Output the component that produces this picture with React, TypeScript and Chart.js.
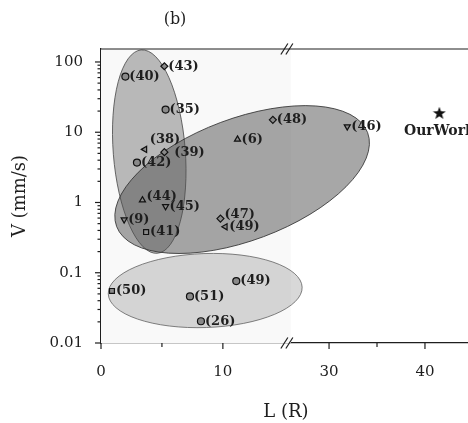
import React, { useEffect, useRef } from 'react';
import { Chart, registerables } from 'chart.js';

Chart.register(...registerables);

// ---------- data ----------
const REFS = ['(40)', '(43)', '(35)', '(38)', '(39)', '(42)', '(44)', '(45)', '(9)', '(41)', '(6)', '(48)', '(46)', '(47)', '(49)', '(50)', '(51)', '(49)', '(26)', 'OurWork'];
const L_VALUES = [2.0, 5.2, 5.3, 3.6, 5.2, 2.95, 3.4, 5.3, 1.9, 3.7, 11.2, 14.1, 31.9, 9.8, 10.2, 0.9, 7.3, 11.1, 8.2, 41.5];
const V_VALUES = [62, 87, 21, 5.7, 5.2, 3.7, 1.08, 0.88, 0.57, 0.38, 7.9, 15, 12, 0.59, 0.45, 0.055, 0.046, 0.076, 0.0204, 18.8];
const MARKERS = ['circle', 'diamond', 'circle', 'triLeft', 'diamond', 'circle', 'triUp', 'triDown', 'triDown', 'square', 'triUp', 'diamond', 'triDown', 'diamond', 'triLeft', 'square', 'circle', 'circle', 'circle', 'star'];

// group ellipses: centre (L, V)
const GROUP_L = [8.55, 3.96, 11.58];
const GROUP_V = [0.0558, 5.3, 2.12];

const X_TICKS = [0, 10, 30, 40];
const X_TICK_LABELS = ['0', '10', '30', '40'];
const X_MINOR_TICKS = [5, 35];
const Y_TICKS = [0.01, 0.1, 1, 10, 100];
const Y_TICK_LABELS = ['0.01', '0.1', '1', '10', '100'];
const Y_MIN = 0.01;
const Y_MAX = 153;
const X_MAX = 44.8;
const BREAK_FROM = 15.25;
const BREAK_TO = 25.6;
const RIGHT_RATIO = 0.787;

// ---------- styles ----------
const LABEL_POS = ['r', 'r', 'r', 'ur', 'rr', 'r', 'ru', 'r', 'r', 'r', 'r', 'r', 'r', 'ru', 'r', 'r', 'r', 'r', 'r', 'below'];
const GROUP_STYLE = [
  { rx: 97, ry: 37, rot: -2, fill: 'rgba(125,125,125,0.30)', stroke: 'rgba(90,90,90,0.75)' },
  { rx: 36, ry: 102, rot: -4.5, fill: 'rgba(80,80,80,0.38)', stroke: 'rgba(70,70,70,0.8)' },
  { rx: 134, ry: 61, rot: -20.5, fill: 'rgba(80,80,80,0.50)', stroke: 'rgba(50,50,50,0.85)' },
];
const INK = '#1e1e1e';
const FONT = 'DejaVu Serif';

const toAxis = (x: number) => (x <= BREAK_FROM ? x : BREAK_FROM + (x - BREAK_TO) * RIGHT_RATIO);

function makeStar(): HTMLCanvasElement {
  const c = document.createElement('canvas');
  c.width = 14;
  c.height = 14;
  const g = c.getContext('2d')!;
  g.fillStyle = '#111';
  g.beginPath();
  for (let i = 0; i < 10; i++) {
    const r = i % 2 === 0 ? 6.8 : 2.8;
    const a = -Math.PI / 2 + (i * Math.PI) / 5;
    const px = 7 + r * Math.cos(a);
    const py = 7.5 + r * Math.sin(a);
    if (i === 0) g.moveTo(px, py);
    else g.lineTo(px, py);
  }
  g.closePath();
  g.fill();
  return c;
}

const styleOf = (m: string, star: HTMLCanvasElement): any => {
  if (m === 'diamond') return 'rectRot';
  if (m === 'square') return 'rect';
  if (m.startsWith('tri')) return 'triangle';
  if (m === 'star') return star;
  return 'circle';
};
const rotOf = (m: string) => (m === 'triDown' ? 180 : m === 'triLeft' ? -90 : 0);

export default function App() {
  const ref = useRef<HTMLCanvasElement | null>(null);

  useEffect(() => {
    if (!ref.current) return;
    const star = makeStar();

    const decor = {
      id: 'decor',
      beforeDatasetsDraw(chart: any) {
        const { ctx, chartArea: ca, scales } = chart;
        const xs = scales.x;
        const ys = scales.y;
        ctx.save();
        // faint scanned background tone
        ctx.fillStyle = '#f9f9f9';
        ctx.fillRect(ca.left, ca.top, xs.getPixelForValue(BREAK_FROM) - ca.left + 4, ca.bottom - ca.top);
        GROUP_L.forEach((l, i) => {
          const s = GROUP_STYLE[i];
          const cx = xs.getPixelForValue(toAxis(l));
          const cy = ys.getPixelForValue(GROUP_V[i]);
          ctx.beginPath();
          ctx.ellipse(cx, cy, s.rx, s.ry, (s.rot * Math.PI) / 180, 0, Math.PI * 2);
          ctx.fillStyle = s.fill;
          ctx.fill();
          ctx.lineWidth = 1;
          ctx.strokeStyle = s.stroke;
          ctx.stroke();
        });
        ctx.restore();
      },
      afterDatasetsDraw(chart: any) {
        const { ctx } = chart;
        const meta = chart.getDatasetMeta(0);
        ctx.save();
        ctx.fillStyle = INK;
        ctx.textBaseline = 'middle';
        meta.data.forEach((el: any, i: number) => {
          const pos = LABEL_POS[i];
          let x = el.x + 4;
          let y = el.y;
          ctx.textAlign = 'left';
          ctx.font = `bold 13px "${FONT}"`;
          if (pos === 'ur') { x = el.x + 5; y = el.y - 10; }
          else if (pos === 'ru') { y = el.y - 4; }
          else if (pos === 'rr') { x = el.x + 10; }
          else if (pos === 'below') { ctx.textAlign = 'center'; ctx.font = `bold 14px "${FONT}"`; x = el.x; y = el.y + 18; }
          ctx.fillText(REFS[i], x, y);
        });
        ctx.restore();
      },
      afterDraw(chart: any) {
        const { ctx, chartArea: ca, scales } = chart;
        const xs = scales.x;
        const ys = scales.y;
        ctx.save();
        ctx.strokeStyle = INK;
        ctx.lineWidth = 1.2;
        const line = (x1: number, y1: number, x2: number, y2: number) => {
          ctx.beginPath();
          ctx.moveTo(x1, y1);
          ctx.lineTo(x2, y2);
          ctx.stroke();
        };
        // frame top
        line(ca.left, ca.top, ca.right, ca.top);
        // y ticks
        Y_TICKS.forEach((v) => {
          const y = ys.getPixelForValue(v);
          line(ca.left - 6, y, ca.left, y);
        });
        for (let d = -2; d <= 2; d++) {
          for (let k = 2; k <= 9; k++) {
            const v = k * Math.pow(10, d);
            if (v >= Y_MAX) continue;
            const y = ys.getPixelForValue(v);
            line(ca.left - 3.5, y, ca.left, y);
          }
        }
        // x ticks
        X_TICKS.forEach((v) => {
          const x = xs.getPixelForValue(toAxis(v));
          line(x, ca.bottom, x, ca.bottom + 6);
        });
        X_MINOR_TICKS.forEach((v) => {
          const x = xs.getPixelForValue(toAxis(v));
          line(x, ca.bottom, x, ca.bottom + 4);
        });
        // axis break marks
        const bx = xs.getPixelForValue(BREAK_FROM);
        [ca.top, ca.bottom].forEach((yy: number) => {
          [-2.5, 2.5].forEach((o) => {
            line(bx + o - 3.5, yy + 5.5, bx + o + 3.5, yy - 5.5);
          });
        });
        // panel title
        ctx.fillStyle = INK;
        ctx.font = `16px "${FONT}"`;
        ctx.textAlign = 'center';
        ctx.textBaseline = 'middle';
        ctx.fillText('(b)', ca.left + 74, ca.top - 29);
        ctx.restore();
      },
    };

    const chart = new Chart(ref.current, {
      type: 'scatter',
      data: {
        datasets: [
          {
            data: L_VALUES.map((l, i) => ({ x: toAxis(l), y: V_VALUES[i] })),
            pointStyle: MARKERS.map((m) => styleOf(m, star)) as any,
            rotation: MARKERS.map(rotOf) as any,
            pointRadius: 3.5,
            pointBorderWidth: 1.2,
            pointBorderColor: '#111',
            pointBackgroundColor: '#8a8a8a',
          } as any,
        ],
      },
      options: {
        animation: false,
        responsive: false,
        devicePixelRatio: 1,
        layout: { padding: { top: 49, right: 9, left: 0, bottom: 0 } },
        plugins: { legend: { display: false }, tooltip: { enabled: false }, title: { display: false } },
        scales: {
          x: {
            type: 'linear',
            bounds: 'data',
            min: 0,
            max: toAxis(X_MAX),
            afterBuildTicks: (s: any) => {
              s.ticks = X_TICKS.map((v) => ({ value: toAxis(v) }));
            },
            afterFit: (s: any) => {
              s.height = 80;
            },
            grid: { display: false, drawTicks: false },
            border: { display: true, color: INK, width: 1.2 },
            ticks: {
              autoSkip: false,
              maxRotation: 0,
              padding: 20,
              color: INK,
              font: { family: FONT, size: 15 },
              callback: (_v: any, i: number) => X_TICK_LABELS[i],
            },
            title: { display: true, text: 'L (R)', color: INK, font: { family: FONT, size: 18 }, padding: { top: 0, bottom: 0 } },
          },
          y: {
            type: 'logarithmic',
            min: Y_MIN,
            max: Y_MAX,
            afterBuildTicks: (s: any) => {
              s.ticks = Y_TICKS.map((v) => ({ value: v }));
            },
            afterFit: (s: any) => {
              s.width = 101;
            },
            grid: { display: false, drawTicks: false },
            border: { display: true, color: INK, width: 1.2 },
            ticks: {
              autoSkip: false,
              padding: 18,
              color: INK,
              font: { family: FONT, size: 15 },
              callback: (_v: any, i: number) => Y_TICK_LABELS[i],
            },
            title: { display: true, text: 'V (mm/s)', color: INK, font: { family: FONT, size: 18 }, padding: { top: 10, bottom: 0 } },
          },
        },
      } as any,
      plugins: [decor],
    });
    return () => chart.destroy();
  }, []);

  return (
    <div style={{ position: 'fixed', left: 0, top: 0, width: 468, height: 423, overflow: 'hidden', background: '#fff' }}>
      <canvas ref={ref} width={480} height={423} style={{ width: 480, height: 423, display: 'block' }} />
    </div>
  );
}
